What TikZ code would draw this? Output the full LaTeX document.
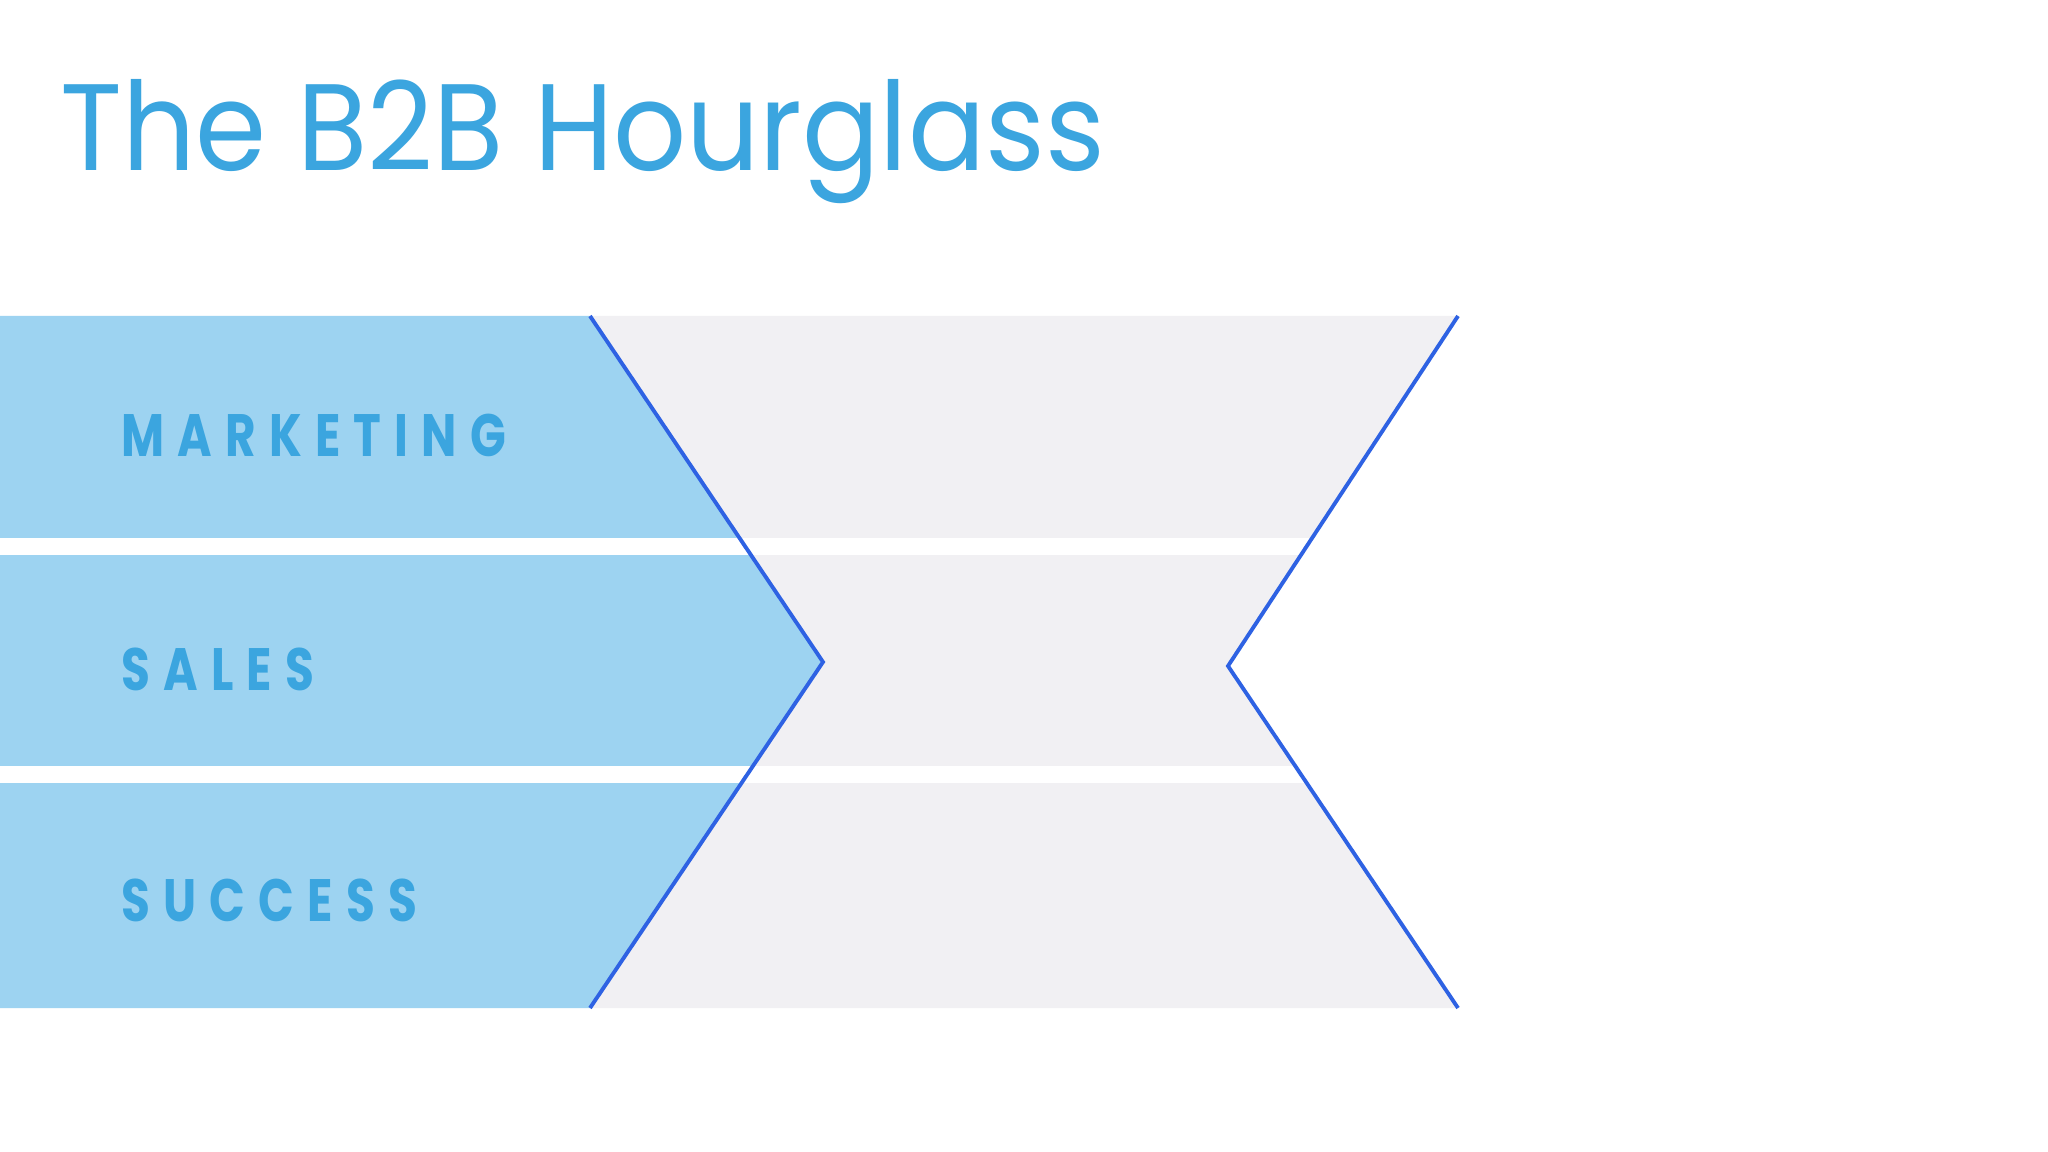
\documentclass[tikz,border=0pt]{standalone}
\usepackage{fontspec}
\setmainfont{Poppins}
\newfontfamily\bandfont[LetterSpace=28]{Poppins}
\definecolor{titleblue}{HTML}{3BA5DF}
\definecolor{bandblue}{HTML}{9DD3F1}
\definecolor{bandgrey}{HTML}{F1F0F3}
\definecolor{edgeblue}{HTML}{2E62E3}
\tikzstyle{band label} = [anchor=base west, inner sep=0pt, text=titleblue, font=\bandfont\bfseries\fontsize{17}{20}\selectfont]
\tikzstyle{gap} = [fill=white, draw=none]
\tikzstyle{edge} = [draw=edgeblue, line width=1.1pt, line join=miter]
\newcommand{\bandtext}[3]{\node [band label] (#1) at (121,#2) {\scalebox{0.785}[1]{#3}};}

\begin{document}
\begin{tikzpicture}[x=0.01cm, y=-0.01cm]%
			\useasboundingbox[fill=white] (0,0) rectangle (2048,1152);%
			% corners of the hourglass
			\coordinate (lt) at (590,316); \coordinate (lm) at (823,662); \coordinate (lb) at (590,1008);%
			\coordinate (rt) at (1458,316); \coordinate (rm) at (1228,666); \coordinate (rb) at (1458,1008);%
			\fill[bandblue] (0,316) -- (lt) -- (lm) -- (lb) -- (0,1008) -- cycle;%
			\fill[bandgrey] (lt) -- (rt) -- (rm) -- (rb) -- (lb) -- (lm) -- cycle;%
			\fill[gap] (0,538) rectangle (1400,555);%
			\fill[gap] (0,766) rectangle (1400,783);%
			\draw[edge] (lt) -- (lm) -- (lb);%
			\draw[edge] (rt) -- (rm) -- (rb);%
			\node [anchor=base west, inner sep=0pt, text=titleblue, font=\fontsize{35}{40}\selectfont] (title) at (60,171) {\scalebox{0.93}[1]{The B2B Hourglass}};%
			\bandtext{mkt}{457}{MARKETING}%
			\bandtext{sales}{690}{SALES}%
			\bandtext{success}{921}{SUCCESS}%
		\end{tikzpicture}
\end{document}
